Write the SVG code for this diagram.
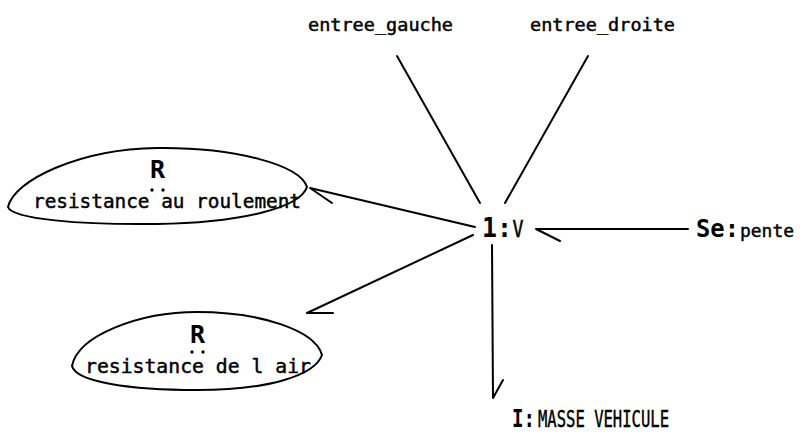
<svg xmlns="http://www.w3.org/2000/svg" width="800" height="442" viewBox="0 0 800 442">
  <style>
    .bond { fill: none; stroke: #000; stroke-width: 2; stroke-linecap: round; stroke-linejoin: round; }
    .shape { fill: none; stroke: #000; stroke-width: 2; }
    .lbl { font-family: "DejaVu Sans Mono", "Liberation Mono", monospace; fill: #000; stroke: #000; stroke-width: 0.45; }
    .big { font-family: "DejaVu Sans Mono", "Liberation Mono", monospace; font-weight: bold; fill: #000; }
    .dot { fill: #000; }
  </style>
  <rect width="800" height="442" fill="#fff"/>

  <!-- bonds -->
  <g id="connectors">
    <line class="bond" x1="397" y1="56" x2="480" y2="203"/>
    <line class="bond" x1="588" y1="56" x2="505" y2="203"/>
    <!-- 1 -> resistance au roulement -->
    <path class="bond" d="M475,227 L310,188 L332,203"/>
    <!-- 1 -> resistance de l air -->
    <path class="bond" d="M473,235 L307,313 L333,313"/>
    <!-- Se -> 1 -->
    <path class="bond" d="M688,229 L536,229 L560,241"/>
    <!-- 1 -> I -->
    <path class="bond" d="M492,245 L493,398 L503,380"/>
  </g>

  <g id="entree_gauche">
    <text class="lbl" x="308" y="31" font-size="17.5" textLength="145" lengthAdjust="spacingAndGlyphs">entree_gauche</text>
  </g>
  <g id="entree_droite">
    <text class="lbl" x="530" y="31" font-size="17.5" textLength="145" lengthAdjust="spacingAndGlyphs">entree_droite</text>
  </g>

  <g id="junction_1">
    <text y="237"><tspan class="big" x="482" font-size="26" textLength="30" lengthAdjust="spacingAndGlyphs">1:</tspan><tspan class="lbl" x="512.5" font-size="23" textLength="11" lengthAdjust="spacingAndGlyphs">V</tspan></text>
  </g>

  <g id="source_pente">
    <text y="237"><tspan class="big" x="696" font-size="25" textLength="43" lengthAdjust="spacingAndGlyphs">Se:</tspan><tspan class="lbl" x="740" font-size="18.5" textLength="54" lengthAdjust="spacingAndGlyphs">pente</tspan></text>
  </g>

  <g id="inertia">
    <text y="427"><tspan class="big" x="512" font-size="24" textLength="23" lengthAdjust="spacingAndGlyphs">I:</tspan><tspan class="lbl" x="538" font-size="23" textLength="131" lengthAdjust="spacingAndGlyphs">MASSE VEHICULE</tspan></text>
  </g>

  <g id="r_roulement">
    <path class="shape" d="M8,207 C14,180 80,149 157,148 C235,147 300,165 307,187 C300,208 240,223 157,224 C80,225 12,219 8,207 Z"/>
    <text class="big" x="157.5" y="178" font-size="25" text-anchor="middle">R</text>
    <circle class="dot" cx="152" cy="190" r="1.7"/>
    <circle class="dot" cx="163" cy="190" r="1.7"/>
    <text class="lbl" x="33" y="208" font-size="19" textLength="268" lengthAdjust="spacingAndGlyphs">resistance au roulement</text>
  </g>

  <g id="r_air">
    <path class="shape" d="M72,366 C78,335 140,312 197,312 C260,312 315,330 322,355 C315,375 270,390 197,390 C130,390 76,382 72,366 Z"/>
    <text class="big" x="197.5" y="343" font-size="25" text-anchor="middle">R</text>
    <circle class="dot" cx="192" cy="352" r="1.7"/>
    <circle class="dot" cx="203" cy="352" r="1.7"/>
    <text class="lbl" x="85" y="373" font-size="19" textLength="226" lengthAdjust="spacingAndGlyphs">resistance de l air</text>
  </g>
</svg>
